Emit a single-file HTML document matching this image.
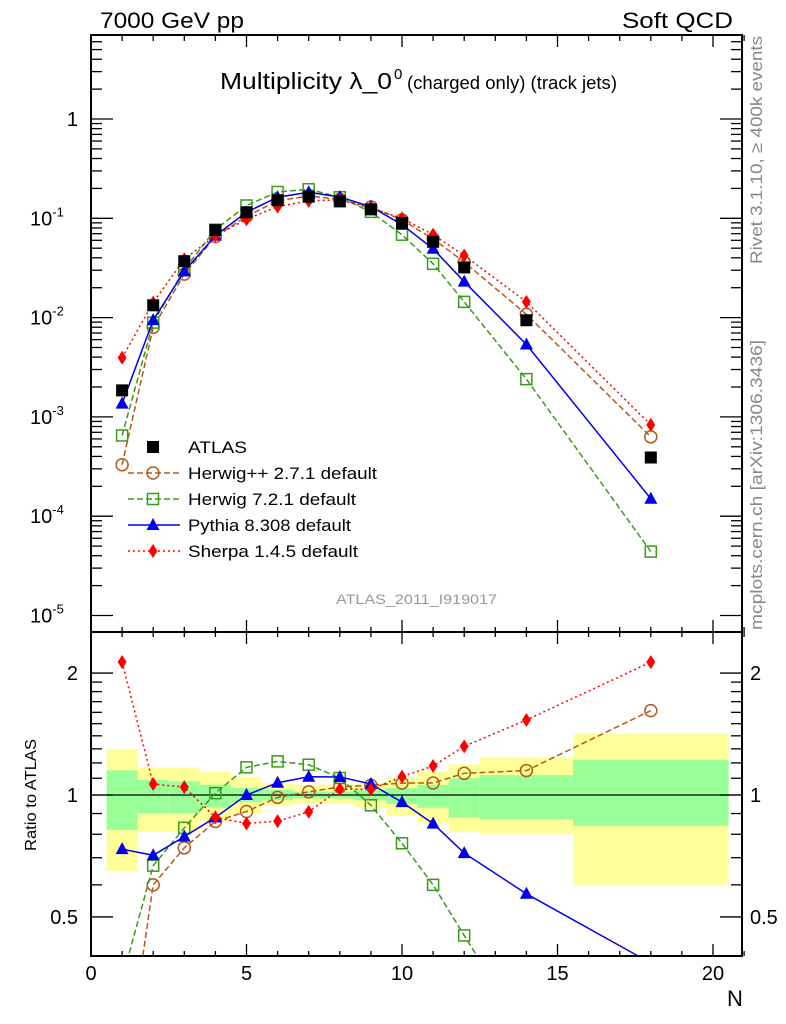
<!DOCTYPE html>
<html><head><meta charset="utf-8"><style>
html,body{margin:0;padding:0;background:#fff;overflow:hidden;width:786px;height:1024px}
svg{display:block}
svg text{font-family:"Liberation Sans",sans-serif}
</style></head><body>
<svg id="c" width="786" height="1024" xmlns="http://www.w3.org/2000/svg">
<defs>
<clipPath id="cm"><rect x="91" y="35" width="651" height="597"/></clipPath>
<clipPath id="cr"><rect x="91" y="632" width="651" height="324"/></clipPath>
</defs>
<g id="bands" clip-path="url(#cr)"></g>
<g id="frames"></g>
<g id="series"></g>
<text x="100" y="28" font-size="22" textLength="144" lengthAdjust="spacingAndGlyphs">7000 GeV pp</text>
<text x="733" y="28" font-size="22" text-anchor="end" textLength="111" lengthAdjust="spacingAndGlyphs">Soft QCD</text>
<text x="220" y="89" font-size="23" textLength="172" lengthAdjust="spacingAndGlyphs">Multiplicity λ_0</text>
<text x="394" y="79" font-size="15">0</text>
<text x="407" y="89" font-size="18" textLength="210" lengthAdjust="spacingAndGlyphs">(charged only) (track jets)</text>
<text transform="translate(762,150) rotate(-90)" font-size="17" fill="#888" text-anchor="middle" textLength="228" lengthAdjust="spacingAndGlyphs">Rivet 3.1.10, ≥ 400k events</text>
<text transform="translate(762,485) rotate(-90)" font-size="17" fill="#888" text-anchor="middle" textLength="290" lengthAdjust="spacingAndGlyphs">mcplots.cern.ch [arXiv:1306.3436]</text>
<text x="336" y="604" font-size="14" fill="#999" textLength="161" lengthAdjust="spacingAndGlyphs">ATLAS_2011_I919017</text>
<text transform="translate(36,795) rotate(-90)" font-size="16" text-anchor="middle" textLength="112" lengthAdjust="spacingAndGlyphs">Ratio to ATLAS</text>
<text x="735" y="1006" font-size="22" text-anchor="middle">N</text>
<g id="legend"></g>
</svg>
<script>
const Ns=[1,2,3,4,5,6,7,8,9,10,11,12,14,18];
const edges=[0.5,1.5,2.5,3.5,4.5,5.5,6.5,7.5,8.5,9.5,10.5,11.5,12.5,15.5,20.5];
const atlas=[1.85e-3,0.0133,0.037,0.076,0.115,0.152,0.165,0.148,0.123,0.090,0.058,0.032,0.0094,3.9e-4];
const herwigpp=[3.3e-4,7.98e-3,0.0274,0.0654,0.1047,0.150,0.168,0.155,0.130,0.0963,0.0621,0.0362,0.0108,6.3e-4];
const herwig7=[6.5e-4,8.9e-3,0.0307,0.0768,0.1346,0.184,0.196,0.163,0.116,0.0684,0.0348,0.0144,0.0024,4.4e-5];
const pythia=[1.36e-3,9.44e-3,0.0292,0.0669,0.115,0.163,0.183,0.164,0.131,0.0864,0.0493,0.0230,0.00536,1.5e-4];
const sherpa=[3.94e-3,0.01416,0.0387,0.0669,0.0978,0.131,0.150,0.153,0.127,0.0999,0.0684,0.0422,0.0144,8.3e-4];
const yellowHi=[1.30,1.17,1.17,1.14,1.11,1.07,1.06,1.06,1.07,1.10,1.14,1.19,1.24,1.42];
const yellowLo=[0.65,0.81,0.81,0.86,0.90,0.94,0.95,0.95,0.93,0.89,0.85,0.81,0.80,0.60];
const greenHi=[1.15,1.09,1.08,1.06,1.04,1.03,1.02,1.02,1.03,1.04,1.06,1.10,1.12,1.22];
const greenLo=[0.82,0.90,0.90,0.93,0.96,0.97,0.98,0.98,0.97,0.95,0.93,0.88,0.87,0.84];
const xTicks=[0,5,10,15,20];
const ratioTicks=[0.5,1,2];

const NS='http://www.w3.org/2000/svg';
const X=v=>91+31.1*v;
const Y=v=>119-99.3*Math.log10(v);
const R=v=>795-405*Math.log10(v);
function mk(t,a,p){const e=document.createElementNS(NS,t);for(const k in a)e.setAttribute(k,a[k]);(p||document.getElementById('series')).appendChild(e);return e;}

const bg=document.getElementById('bands');
for(let i=0;i<Ns.length;i++){
 const y1=mk('rect',{x:X(edges[i]),y:R(yellowHi[i]),width:X(edges[i+1])-X(edges[i]),height:R(yellowLo[i])-R(yellowHi[i]),fill:'#ffff99'},bg);
 
 
 const g1=mk('rect',{x:X(edges[i]),y:R(greenHi[i]),width:X(edges[i+1])-X(edges[i]),height:R(greenLo[i])-R(greenHi[i]),fill:'#99ff99'},bg);
 
 
}
const fr=document.getElementById('frames');
mk('line',{x1:91,x2:742,y1:795,y2:795,stroke:'#000','stroke-width':1.3},fr);
mk('rect',{x:91,y:35,width:651,height:597,fill:'none',stroke:'#000','stroke-width':2},fr);
mk('rect',{x:91,y:632,width:651,height:324,fill:'none',stroke:'#000','stroke-width':2},fr);
for(let v=0;v<=21;v++){
 const maj=v%5===0,x=X(v);
 mk('line',{x1:x,x2:x,y1:956,y2:956-(maj?12:5),stroke:'#000','stroke-width':1.3},fr);
 mk('line',{x1:x,x2:x,y1:632,y2:632+(maj?12:5),stroke:'#000','stroke-width':1.3},fr);
 mk('line',{x1:x,x2:x,y1:632,y2:632-(maj?12:5),stroke:'#000','stroke-width':1.3},fr);
 mk('line',{x1:x,x2:x,y1:35,y2:35+(maj?12:6),stroke:'#000','stroke-width':1.3},fr);
}
xTicks.forEach(v=>{const t=mk('text',{x:X(v),y:980,'font-size':20,'text-anchor':'middle'},fr);t.textContent=v;
 
 });
for(let d=-5;d<=0;d++){for(let m=1;m<10;m++){const v=m*Math.pow(10,d),y=Y(v);if(y<35||y>632)continue;
 const L=m===1?22:11;
 mk('line',{x1:91,x2:91+L,y1:y,y2:y,stroke:'#000','stroke-width':1.3},fr);
 mk('line',{x1:742,x2:742-L,y1:y,y2:y,stroke:'#000','stroke-width':1.3},fr);}
 const t=mk('text',{x:78,y:Y(Math.pow(10,d))+7,'font-size':20,'text-anchor':'end'},fr);
 
 
 if(d===0)t.textContent='1';else{t.setAttribute('x',30);t.setAttribute('text-anchor','start');t.textContent='10';const s=mk('tspan',{'font-size':13,dy:-9},t);s.textContent=d;}
}
[0.4,0.5,0.6,0.7,0.8,0.9,1,1.1,1.2,1.3,1.4,1.5,1.6,1.7,1.8,1.9,2].forEach(v=>{const y=R(v);const L=(v===0.5||v===1||v===2)?22:11;
 mk('line',{x1:91,x2:91+L,y1:y,y2:y,stroke:'#000','stroke-width':1.3},fr);
 mk('line',{x1:742,x2:742-L,y1:y,y2:y,stroke:'#000','stroke-width':1.3},fr);});
ratioTicks.forEach(v=>{
 const a=mk('text',{x:78,y:R(v)+7,'font-size':20,'text-anchor':'end'},fr);a.textContent=v;
 
 
 const b=mk('text',{x:750,y:R(v)+7,'font-size':20},fr);b.textContent=v;
 
 });

function marker(kind,x,y,col,p){
 let e;
 if(kind==='sq')e=mk('rect',{x:x-6,y:y-6,width:12,height:12,fill:'#000'},p);
 else if(kind==='osq')e=mk('rect',{x:x-5.5,y:y-5.5,width:11,height:11,fill:'none',stroke:col,'stroke-width':1.5},p);
 else if(kind==='oc')e=mk('circle',{cx:x,cy:y,r:6,fill:'none',stroke:col,'stroke-width':1.5},p);
 else if(kind==='tri')e=mk('polygon',{points:`${x},${y-7} ${x-6.5},${y+5} ${x+6.5},${y+5}`,fill:col},p);
 else e=mk('polygon',{points:`${x},${y-7} ${x-4.5},${y} ${x},${y+7} ${x+4.5},${y}`,fill:col},p);
 return e;
}
const models=[
 {name:'herwigpp',label:'Herwig++ 2.7.1 default',vals:herwigpp,col:'#b35a1f',dash:'6,3',m:'oc'},
 {name:'herwig7',label:'Herwig 7.2.1 default',vals:herwig7,col:'#3a9a1a',dash:'6,3',m:'osq'},
 {name:'pythia',label:'Pythia 8.308 default',vals:pythia,col:'#0000ee',dash:'',m:'tri'},
 {name:'sherpa',label:'Sherpa 1.4.5 default',vals:sherpa,col:'#ff0000',dash:'2,3',m:'dia'}];
const sg=document.getElementById('series');
models.forEach(md=>{
 const gm=mk('g',{'clip-path':'url(#cm)'},sg);
 
 
 mk('polyline',{points:Ns.map((n,i)=>X(n)+','+Y(md.vals[i])).join(' '),fill:'none',stroke:md.col,'stroke-width':1.5,'stroke-dasharray':md.dash},gm);
 Ns.forEach((n,i)=>{const e=marker(md.m,X(n),Y(md.vals[i]),md.col,gm);
  
  });
 const gr=mk('g',{'clip-path':'url(#cr)'},sg);
 
 
 mk('polyline',{points:Ns.map((n,i)=>X(n)+','+R(md.vals[i]/atlas[i])).join(' '),fill:'none',stroke:md.col,'stroke-width':1.5,'stroke-dasharray':md.dash},gr);
 Ns.forEach((n,i)=>{const e=marker(md.m,X(n),R(md.vals[i]/atlas[i]),md.col,gr);
  
  });
});
const ga=mk('g',{'clip-path':'url(#cm)'},sg);


Ns.forEach((n,i)=>{const e=marker('sq',X(n),Y(atlas[i]),'#000',ga);
 
 });

const lg=document.getElementById('legend');


const entries=[{label:'ATLAS',m:'sq',col:'#000',dash:null}].concat(models);
const lens=[59,189,168,163,170];
entries.forEach((e,i)=>{const y=447+26*i;
 const g=mk('g',{},lg);
 
 
 if(e.dash!==null)mk('line',{x1:128,x2:180,y1:y,y2:y,stroke:e.col,'stroke-width':1.5,'stroke-dasharray':e.dash},g);
 marker(e.m,153,y,e.col,g);
 const t=mk('text',{x:188,y:y+6,'font-size':17,textLength:lens[i],lengthAdjust:'spacingAndGlyphs'},g);t.textContent=e.label;});
</script>
</body></html>
